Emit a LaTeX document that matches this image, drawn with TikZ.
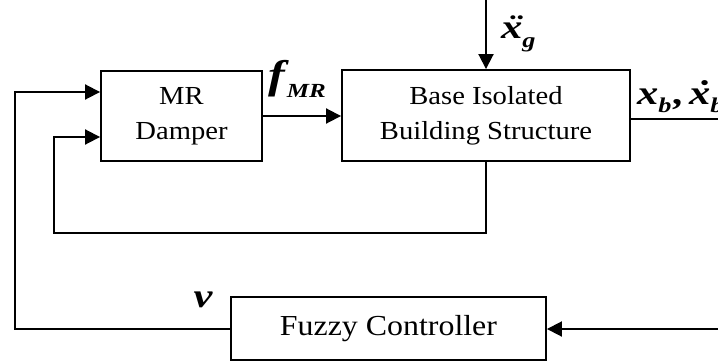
\documentclass[tikz,border=0pt]{standalone}
\usepackage{fontspec}
\setmainfont[FakeStretch=1.1]{Liberation Serif}
\newfontfamily\labfont[FakeStretch=1.25]{Liberation Serif}
\usetikzlibrary{arrows.meta,calc}
\newcommand{\myddotx}{\ooalign{x\cr\hidewidth\kern0.14em\char"00A8\hidewidth\cr}}
\newcommand{\mydotx}{\ooalign{x\cr\hidewidth\kern0.14em\char"02D9\hidewidth\cr}}
\newcommand{\subfont}{\fontsize{21}{21}\selectfont}
\begin{document}
\begin{tikzpicture}[x=1pt,y=-1pt,
  blk/.style={draw, line width=1.9pt, align=center, inner sep=0pt, font=\fontsize{26}{35}\selectfont},
  conn/.style={line width=1.9pt},
  arr/.style={conn, -{Triangle[length=15pt,width=15pt]}},
  lab/.style={inner sep=0pt, font=\labfont\fontsize{34}{34}\selectfont\bfseries\itshape}]
\useasboundingbox (0,0) rectangle (718,362);
\node[blk, minimum width=161pt, minimum height=90pt] (mr) at (181.5,116) {MR\\Damper};
\node[blk, minimum width=288pt, minimum height=91pt] (bld) at (486,115.5) {Base Isolated\\Building Structure};
\node[blk, minimum width=315pt, minimum height=63pt, font=\fontsize{29}{32}\selectfont] (fz) at (388.5,328.5) {Fuzzy Controller};
% labels
\node[lab, anchor=base west, font=\labfont\fontsize{40}{40}\selectfont\bfseries\itshape] (fl) at (268,88) {f\kern2pt\raisebox{-9pt}{\fontsize{20}{20}\selectfont MR}};
\node[lab, anchor=base west] (xg) at (501,38) {\myddotx\raisebox{-9pt}{\subfont g}};
\node[lab, anchor=base west] (xb) at (637,104) {x\raisebox{-8pt}{\subfont b}\kern2pt,\kern5pt\mydotx\raisebox{-8pt}{\subfont b}};
\node[lab, anchor=base] (v) at (203,307) {v};
% connectors
\coordinate (gtop) at (485,0);
\draw[arr] (gtop) -- (gtop -| bld.north) -- (bld.north);
\draw[arr] (mr.east) -- (mr.east -| bld.west);
\coordinate (outR) at (718,119);
\draw[conn] (outR -| bld.east) -- (outR);
\coordinate (inR) at (718,329);
\draw[arr] (inR) -- (inR -| fz.east);
\coordinate (vL) at (15,329);
\coordinate (m1) at ($(mr.west)+(0,-24)$);
\draw[arr] (fz.west |- vL) -- (vL) |- (m1);
\coordinate (lb) at (54,233);
\coordinate (m2) at ($(mr.west)+(0,21)$);
\draw[arr] (bld.south) |- (lb) |- (m2);
\end{tikzpicture}
\end{document}
